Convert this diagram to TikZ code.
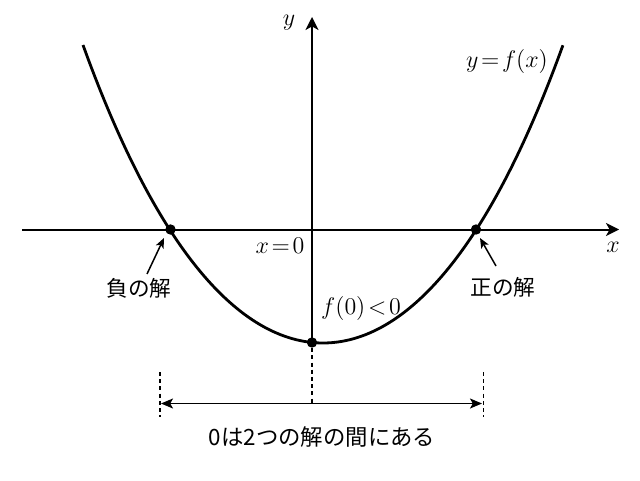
\documentclass[tikz,border=0pt]{standalone}
\usepackage{fontspec}
\newfontfamily\cjk{Noto Sans CJK JP}
\usetikzlibrary{arrows.meta}
\begin{document}
\begin{tikzpicture}[x=0.5pt,y=-0.5pt,
  axisline/.style={line width=1pt,-{Stealth[length=6.5pt,width=6.5pt,inset=1.8pt]}},
  curveline/.style={line width=1.4pt},
  dot/.style={circle,fill=black,inner sep=0pt,minimum size=5.2pt},
  guide/.style={line width=0.65pt,dash pattern=on 2pt off 1.6pt},
  pointer/.style={line width=0.75pt,-{Stealth[length=5pt,width=4.2pt,inset=1.2pt]}},
  span/.style={line width=0.85pt,{Stealth[length=6pt,width=5pt,inset=1.4pt]}-{Stealth[length=6pt,width=5pt,inset=1.4pt]}},
  mlabel/.style={inner sep=1pt,font=\fontsize{11.5}{13}\selectfont},
  jlabel/.style={inner sep=1pt,font=\cjk\fontsize{10.8}{13}\selectfont}]
\useasboundingbox (0,0) rectangle (640,480);
% axes
\coordinate (xl) at (22,229.5);
\coordinate (xr) at (619,229.5);
\coordinate (yt) at (312,17);
\node[dot] (V) at (312,342.5) {};
\draw[axisline] (xl) -- (xr);
\draw[axisline] (V.center) -- (yt);
\node[mlabel] (xlab) at (613,247) {$x$};
\node[mlabel] (ylab) at (289,23) {$y$};
% curve
\draw[curveline] plot[domain=-2.4:2.4,samples=120,smooth]
  ({323+100*\x},{343-45.9*\x*\x-1.013*\x*\x*\x*\x});
\node[dot] (L) at (170.5,229.5) {};
\node[dot] (R) at (476,229.5) {};
% labels
\node[mlabel] (fx) at (507,62) {$y\!=\!f(x)$};
\node[mlabel] (x0) at (280,246) {$x\!=\!0$};
\node[mlabel] (f0) at (361,308) {$f(0)\!<\!0$};
\node[jlabel] (neg) at (139,288) {負の解};
\node[jlabel] (pos) at (503,287) {正の解};
\coordinate (negtail) at (147,274);
\coordinate (negtip) at (164,238);
\coordinate (postail) at (496,266);
\coordinate (postip) at (480,238);
\draw[pointer] (negtail) -- (negtip);
\draw[pointer] (postail) -- (postip);
% guides
\coordinate (cb) at (312,403);
\coordinate (lt) at (160,372);
\coordinate (lb) at (160,417);
\coordinate (rt) at (483.5,372);
\coordinate (rb) at (483.5,417);
\draw[guide] (V.south) -- (cb);
\draw[guide] (lt) -- (lb);
\draw[guide] (rt) -- (rb);
\coordinate (sl) at (161,403.5);
\coordinate (sr) at (482,403.5);
\draw[span] (sl) -- (sr);
\node[inner sep=1pt,font=\cjk\fontsize{11.2}{13}\selectfont] (bottom) at (322,437) {0は2つの解の間にある};
\end{tikzpicture}
\end{document}
